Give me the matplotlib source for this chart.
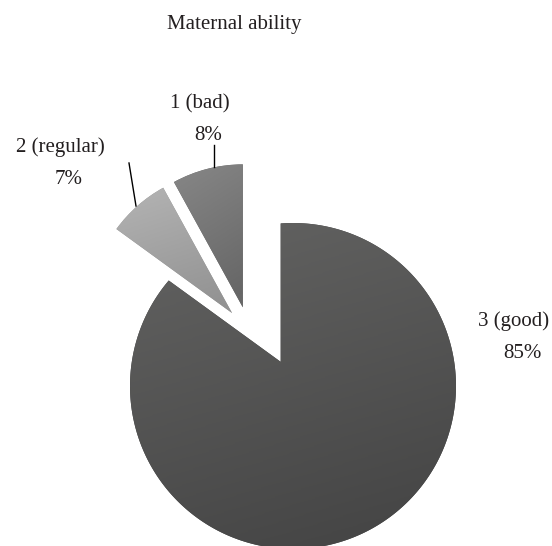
import matplotlib
matplotlib.use('Agg')
import matplotlib.pyplot as plt
import numpy as np
from matplotlib.colors import LinearSegmentedColormap
from matplotlib.path import Path
from matplotlib.patches import PathPatch

# ---- data ----
categories = ['1 (bad)', '2 (regular)', '3 (good)']
values = [8, 7, 85]
title = 'Maternal ability'

# ---- layout (pixel space, y measured from top) ----
W, H = 552, 546
fig = plt.figure(figsize=(W / 100, H / 100), dpi=100)
ax = fig.add_axes([0, 0, 1, 1])


def P(x, y):
    return (x, H - y)


R = 143
C = P(249.3, 332.6)
expl = 0.182 * R
wedges, _ = ax.pie(values, explode=[expl, expl, 0.0], startangle=90,
                   counterclock=True, radius=R, center=C,
                   wedgeprops=dict(linewidth=0))

# main slice: placed lower-right and drawn "dilated" (as in the source chart)
big = wedges[2]
DIL = 12.3
big.set_center(P(293, 386))
big.set_radius(163 - DIL)


def dilated_path(w, d):
    cx, cy = w.center
    r = w.r + d
    t1, t2 = np.radians(w.theta1), np.radians(w.theta2)
    gap = (t1 + 2 * np.pi) - t2
    gmid = t2 + gap / 2
    apex = np.array([cx, cy]) + d / np.sin(gap / 2) * np.array([np.cos(gmid), np.sin(gmid)])
    s = np.sqrt(r ** 2 - d ** 2)
    delta = np.arctan2(d, s)
    angs = np.linspace(t1 - delta, t2 + delta, 400)
    arc = np.column_stack([cx + r * np.cos(angs), cy + r * np.sin(angs)])
    verts = np.vstack([apex, arc, apex])
    codes = [Path.MOVETO] + [Path.LINETO] * len(arc) + [Path.CLOSEPOLY]
    return Path(verts, codes)


bigpatch = PathPatch(dilated_path(big, DIL), facecolor='#555555', lw=0)
ax.add_patch(bigpatch)
big.set_visible(False)

shapes = [wedges[0], wedges[1], bigpatch]
grads = [('#878787', '#676767'), ('#b4b4b4', '#939393'), ('#636362', '#464646')]
for w, (c0, c1) in zip(shapes, grads):
    w.set_facecolor(c1)
    ext = w.get_path().get_extents()
    cm = LinearSegmentedColormap.from_list('g', [c0, c1])
    gx = np.linspace(0, 0.25, 64)[None, :]
    gy = np.linspace(0, 1, 256)[:, None]
    g = np.clip(gy * 0.85 + gx, 0, 1)
    im = ax.imshow(g, cmap=cm, vmin=0, vmax=1, origin='upper',
                   extent=[ext.x0, ext.x1, ext.y0, ext.y1], aspect='auto',
                   interpolation='bilinear', zorder=2)
    im.set_clip_path(w)

ax.set_xlim(0, W)
ax.set_ylim(0, H)
ax.set_aspect('auto')
ax.axis('off')

font = dict(family='Liberation Serif', fontsize=15, color='#231f20')

ax.text(*P(234, 29), title, ha='center', va='baseline', **font)

# labels: (name center x, name baseline, pct center x, pct baseline)
lab_pos = [(200, 108, 208, 140), (60, 152, 69, 184), (514, 326, 522, 358)]
for name, v, (nx, ny, px, py) in zip(categories, values, lab_pos):
    ax.text(*P(nx, ny), name, ha='center', va='baseline', **font)
    ax.text(*P(px, py), f'{v}%', ha='center', va='baseline', **font)

# leader lines
ax.plot(*zip(P(214, 145), P(214, 167)), color='black', lw=1.0)
ax.plot(*zip(P(129, 163), P(136, 206)), color='black', lw=1.0)

fig.savefig('out.png', dpi=100)
